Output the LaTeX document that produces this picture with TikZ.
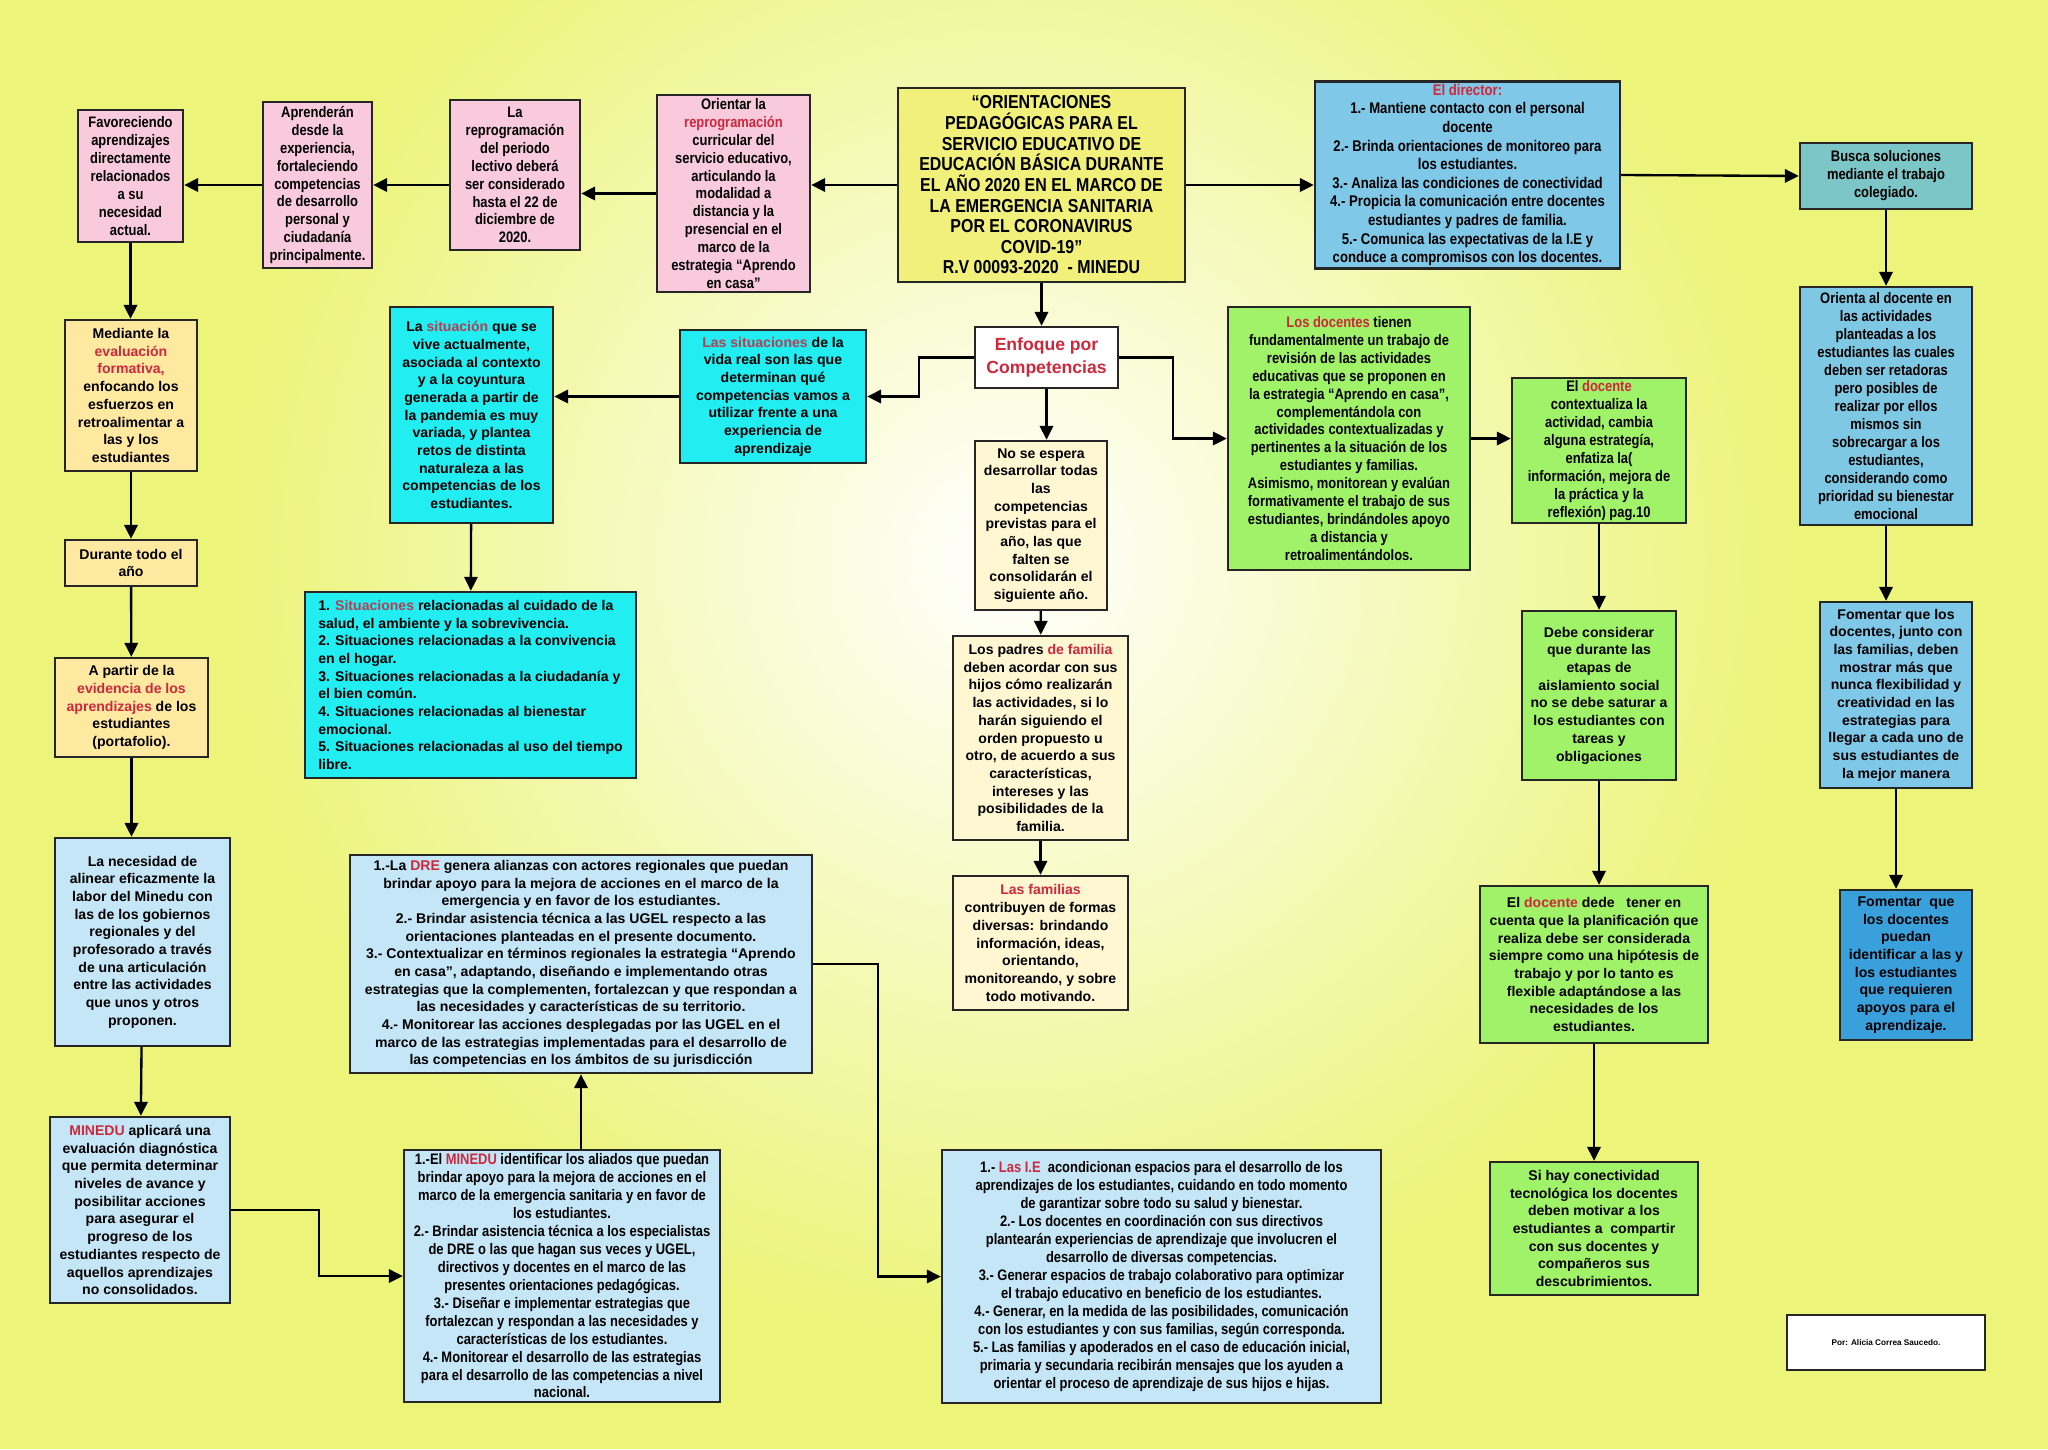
\documentclass[tikz,border=0pt]{standalone}
\usepackage{fontspec}
\setmainfont{Liberation Sans}
\newfontfamily\anchafont{Liberation Sans Bold}
\newfontfamily\estrechafont{Liberation Sans Bold}[FakeStretch=0.85]
\usetikzlibrary{arrows.meta}

\definecolor{fondo}{RGB}{236,244,122}
\definecolor{rojo}{RGB}{206,40,60}
\definecolor{rojosuave}{RGB}{178,64,84}
\definecolor{rosa}{RGB}{249,201,220}
\definecolor{amarillo}{RGB}{240,240,122}
\definecolor{celeste}{RGB}{128,200,232}
\definecolor{turquesa}{RGB}{124,198,200}
\definecolor{azulclaro}{RGB}{196,230,246}
\definecolor{azul}{RGB}{58,160,220}
\definecolor{cian}{RGB}{34,238,242}
\definecolor{verde}{RGB}{160,242,104}
\definecolor{crema}{RGB}{255,246,210}
\definecolor{naranja}{RGB}{255,232,160}

\newcommand\rojo[1]{\textcolor{rojo}{#1}}
\newcommand\rojos[1]{\textcolor{rojosuave}{#1}}

\tikzset{
  caja/.style={draw=black!85, line width=2pt, align=center, inner sep=2pt},
  ancha/.style={caja, font=\anchafont\fontsize{12}{15.1}\selectfont},
  estrecha/.style={caja, font=\estrechafont\fontsize{13}{15.3}\selectfont},
  flecha/.style={line width=2pt, -{Triangle[length=0.42cm,width=0.4cm]}},
}

\begin{document}
\begin{tikzpicture}[x=0.03cm,y=-0.03cm]

  \useasboundingbox (0,0) rectangle (2048,1449);
  \fill[fondo] (0,0) rectangle (2048,1449);
  \begin{scope}
    \clip (0,0) rectangle (2048,1449);
    \shade[inner color=white,outer color=fondo] (1010,560) circle (780);
  \end{scope}

  % fila superior
  \node[estrecha, fill=amarillo, minimum width=8.61cm, minimum height=5.82cm,
        font=\estrechafont\fontsize{16}{17.6}\selectfont] (titulo) at (1041.5,185)
    {“ORIENTACIONES\\PEDAGÓGICAS PARA EL\\SERVICIO EDUCATIVO DE\\EDUCACIÓN BÁSICA DURANTE\\EL AÑO 2020 EN EL MARCO DE\\LA EMERGENCIA SANITARIA\\POR EL CORONAVIRUS\\COVID-19”\\R.V 00093-2020 \ - MINEDU};
  \node[estrecha, fill=rosa, minimum width=4.59cm, minimum height=5.91cm] (orientar) at (733.5,193.5)
    {Orientar la\\\rojo{reprogramación}\\curricular del\\servicio educativo,\\articulando la\\modalidad a\\distancia y la\\presencial en el\\marco de la\\estrategia “Aprendo\\en casa”};
  \node[estrecha, fill=rosa, minimum width=3.9cm, minimum height=4.5cm] (reprog) at (515,175)
    {La\\reprogramación\\del periodo\\lectivo deberá\\ser considerado\\hasta el 22 de\\diciembre de\\2020.};
  \node[estrecha, fill=rosa, minimum width=3.27cm, minimum height=4.98cm] (aprenderan) at (317.5,185)
    {Aprenderán\\desde la\\experiencia,\\fortaleciendo\\competencias\\de desarrollo\\personal y\\ciudadanía\\principalmente.};
  \node[estrecha, fill=rosa, minimum width=3.15cm, minimum height=3.96cm] (favoreciendo) at (130.5,176)
    {Favoreciendo\\aprendizajes\\directamente\\relacionados\\a su\\necesidad\\actual.};
  \node[estrecha, fill=celeste, minimum width=9.15cm, minimum height=5.58cm,
        font=\estrechafont\fontsize{13.2}{15.9}\selectfont] (director) at (1467.5,175)
    {\rojo{El director:}\\1.- Mantiene contacto con el personal\\docente\\2.- Brinda orientaciones de monitoreo para\\los estudiantes.\\3.- Analiza las condiciones de conectividad\\4.- Propicia la comunicación entre docentes\\estudiantes y padres de familia.\\5.- Comunica las expectativas de la I.E y\\conduce a compromisos con los docentes.};

  % columna derecha
  \node[estrecha, fill=turquesa, minimum width=5.16cm, minimum height=1.98cm] (busca) at (1886,176)
    {Busca soluciones\\mediante el trabajo\\colegiado.};
  \node[estrecha, fill=celeste!85!turquesa, minimum width=5.16cm, minimum height=7.14cm] (orienta) at (1886,406)
    {Orienta al docente en\\las actividades\\planteadas a los\\estudiantes las cuales\\deben ser retadoras\\pero posibles de\\realizar por ellos\\mismos sin\\sobrecargar a los\\estudiantes,\\considerando como\\prioridad su bienestar\\emocional};
  \node[ancha, fill=celeste, minimum width=4.56cm, minimum height=5.58cm] (fomentar) at (1896,695)
    {Fomentar que los\\docentes, junto con\\las familias, deben\\mostrar más que\\nunca flexibilidad y\\creatividad en las\\estrategias para\\llegar a cada uno de\\sus estudiantes de\\la mejor manera};
  \node[ancha, fill=azul, minimum width=3.96cm, minimum height=4.5cm] (identificar) at (1906,965)
    {Fomentar \ que\\los docentes\\puedan\\identificar a las y\\los estudiantes\\que requieren\\apoyos para el\\aprendizaje.};

  % centro
  \node[caja, fill=white, minimum width=4.29cm, minimum height=1.83cm, text=rojo,
        font=\anchafont\fontsize{15}{19}\selectfont] (enfoque) at (1046.5,357.5)
    {Enfoque por\\Competencias};
  \node[ancha, fill=cian, minimum width=5.58cm, minimum height=3.99cm] (situaciones) at (773,396.5)
    {\rojos{Las situaciones} de la\\vida real son las que\\determinan qué\\competencias vamos a\\utilizar frente a una\\experiencia de\\aprendizaje};
  \node[ancha, fill=cian, minimum width=4.89cm, minimum height=6.48cm] (situacion) at (471.5,415)
    {La \rojos{situación} que se\\vive actualmente,\\asociada al contexto\\y a la coyuntura\\generada a partir de\\la pandemia es muy\\variada, y plantea\\retos de distinta\\naturaleza a las\\competencias de los\\estudiantes.};
  \node[ancha, fill=cian, minimum width=9.93cm, minimum height=5.58cm, align=left] (lista) at (470.5,685)
    {1. \rojos{Situaciones} relacionadas al cuidado de la\\salud, el ambiente y la sobrevivencia.\\2. Situaciones relacionadas a la convivencia\\en el hogar.\\3. Situaciones relacionadas a la ciudadanía y\\el bien común.\\4. Situaciones relacionadas al bienestar\\emocional.\\5. Situaciones relacionadas al uso del tiempo\\libre.};
  \node[ancha, fill=crema, minimum width=3.96cm, minimum height=5.07cm] (noespera) at (1041,525.5)
    {No se espera\\desarrollar todas\\las\\competencias\\previstas para el\\año, las que\\falten se\\consolidarán el\\siguiente año.};
  \node[ancha, fill=crema, minimum width=5.25cm, minimum height=6.12cm] (padres) at (1040.5,738)
    {Los padres \rojo{de familia}\\deben acordar con sus\\hijos cómo realizarán\\las actividades, si lo\\harán siguiendo el\\orden propuesto u\\otro, de acuerdo a sus\\características,\\intereses y las\\posibilidades de la\\familia.};
  \node[ancha, fill=crema, minimum width=5.25cm, minimum height=4.02cm] (familias) at (1040.5,943)
    {\rojo{Las familias}\\contribuyen de formas\\diversas: brindando\\información, ideas,\\orientando,\\monitoreando, y sobre\\todo motivando.};

  % docentes
  \node[estrecha, fill=verde, minimum width=7.26cm, minimum height=7.89cm] (losdocentes) at (1349,438.5)
    {\rojo{Los docentes} tienen\\fundamentalmente un trabajo de\\revisión de las actividades\\educativas que se proponen en\\la estrategia “Aprendo en casa”,\\complementándola con\\actividades contextualizadas y\\pertinentes a la situación de los\\estudiantes y familias.\\Asimismo, monitorean y evalúan\\formativamente el trabajo de sus\\estudiantes, brindándoles apoyo\\a distancia y\\retroalimentándolos.};
  \node[estrecha, fill=verde, minimum width=5.22cm, minimum height=4.35cm] (eldocente) at (1599,450.5)
    {El \rojo{docente}\\contextualiza la\\actividad, cambia\\alguna estrategía,\\enfatiza la(\\información, mejora de\\la práctica y la\\reflexión) pag.10};
  \node[ancha, fill=verde, minimum width=4.62cm, minimum height=5.07cm] (debe) at (1599,695.5)
    {Debe considerar\\que durante las\\etapas de\\aislamiento social\\no se debe saturar a\\los estudiantes con\\tareas y\\obligaciones};
  \node[ancha, fill=verde, minimum width=6.84cm, minimum height=4.71cm] (dede) at (1594,964.5)
    {El \rojo{docente} dede \ \ tener en\\cuenta que la planificación que\\realiza debe ser considerada\\siempre como una hipótesis de\\trabajo y por lo tanto es\\flexible adaptándose a las\\necesidades de los\\estudiantes.};
  \node[ancha, fill=verde, minimum width=6.24cm, minimum height=3.99cm] (sihay) at (1594,1228.5)
    {Si hay conectividad\\tecnológica los docentes\\deben motivar a los\\estudiantes a \ compartir\\con sus docentes y\\compañeros sus\\descubrimientos.};

  % columna izquierda
  \node[ancha, fill=naranja, minimum width=3.96cm, minimum height=4.53cm] (mediante) at (131,395.5)
    {Mediante la\\\rojo{evaluación}\\\rojo{formativa,}\\enfocando los\\esfuerzos en\\retroalimentar a\\las y los\\estudiantes};
  \node[ancha, fill=naranja, minimum width=3.96cm, minimum height=1.38cm] (durante) at (131,563)
    {Durante todo el\\año};
  \node[ancha, fill=naranja, minimum width=4.59cm, minimum height=2.97cm] (apartir) at (131.5,707.5)
    {A partir de la\\\rojo{evidencia de los}\\\rojo{aprendizajes} de los\\estudiantes\\(portafolio).};
  \node[ancha, fill=azulclaro, minimum width=5.25cm, minimum height=6.24cm] (necesidad) at (142.5,942)
    {La necesidad de\\alinear eficazmente la\\labor del Minedu con\\las de los gobiernos\\regionales y del\\profesorado a través\\de una articulación\\entre las actividades\\que unos y otros\\proponen.};
  \node[ancha, fill=azulclaro, minimum width=5.4cm, minimum height=5.58cm] (aplicara) at (140,1210)
    {\rojo{MINEDU} aplicará una\\evaluación diagnóstica\\que permita determinar\\niveles de avance y\\posibilitar acciones\\para asegurar el\\progreso de los\\estudiantes respecto de\\aquellos aprendizajes\\no consolidados.};

  % fila inferior
  \node[ancha, fill=azulclaro, minimum width=13.86cm, minimum height=6.54cm] (dre) at (581,964)
    {1.-La \rojo{DRE} genera alianzas con actores regionales que puedan\\brindar apoyo para la mejora de acciones en el marco de la\\emergencia y en favor de los estudiantes.\\2.- Brindar asistencia técnica a las UGEL respecto a las\\orientaciones planteadas en el presente documento.\\3.- Contextualizar en términos regionales la estrategia “Aprendo\\en casa”, adaptando, diseñando e implementando otras\\estrategias que la complementen, fortalezcan y que respondan a\\las necesidades y características de su territorio.\\4.- Monitorear las acciones desplegadas por las UGEL en el\\marco de las estrategias implementadas para el desarrollo de\\las competencias en los ámbitos de su jurisdicción};
  \node[estrecha, fill=azulclaro, minimum width=9.48cm, minimum height=7.56cm] (minedu) at (562,1276)
    {1.-El \rojo{MINEDU} identificar los aliados que puedan\\brindar apoyo para la mejora de acciones en el\\marco de la emergencia sanitaria y en favor de\\los estudiantes.\\2.- Brindar asistencia técnica a los especialistas\\de DRE o las que hagan sus veces y UGEL,\\directivos y docentes en el marco de las\\presentes orientaciones pedagógicas.\\3.- Diseñar e implementar estrategias que\\fortalezcan y respondan a las necesidades y\\características de los estudiantes.\\4.- Monitorear el desarrollo de las estrategias\\para el desarrollo de las competencias a nivel\\nacional.};
  \node[estrecha, fill=azulclaro, minimum width=13.17cm, minimum height=7.59cm] (ie) at (1161.5,1276.5)
    {1.- \rojo{Las I.E} \ acondicionan espacios para el desarrollo de los\\aprendizajes de los estudiantes, cuidando en todo momento\\de garantizar sobre todo su salud y bienestar.\\2.- Los docentes en coordinación con sus directivos\\plantearán experiencias de aprendizaje que involucren el\\desarrollo de diversas competencias.\\3.- Generar espacios de trabajo colaborativo para optimizar\\el trabajo educativo en beneficio de los estudiantes.\\4.- Generar, en la medida de las posibilidades, comunicación\\con los estudiantes y con sus familias, según corresponda.\\5.- Las familias y apoderados en el caso de educación inicial,\\primaria y secundaria recibirán mensajes que los ayuden a\\orientar el proceso de aprendizaje de sus hijos e hijas.};
  \node[caja, fill=white, minimum width=5.94cm, minimum height=1.65cm,
        font=\anchafont\fontsize{7}{8}\selectfont] (autora) at (1886,1342.5)
    {Por: Alicia Correa Saucedo.};

  % conectores
  \draw[flecha] (titulo.west) -- (titulo.west -| orientar.east);
  \draw[flecha] (orientar.west) -- (orientar.west -| reprog.east);
  \draw[flecha] (reprog.west |- aprenderan.east) -- (aprenderan.east);
  \draw[flecha] (aprenderan.west) -- (aprenderan.west -| favoreciendo.east);
  \draw[flecha] (favoreciendo.south) -- (favoreciendo.south |- mediante.north);
  \draw[flecha] (mediante) -- (durante);
  \draw[flecha] (durante) -- (apartir);
  \draw[flecha] (apartir.south) -- (apartir.south |- necesidad.north);
  \draw[flecha] (necesidad) -- (aplicara);
  \draw[flecha] (aplicara.east) -- ++(88,0) |- (minedu.west);
  \draw[flecha] (minedu.north -| dre.south) -- (dre.south);
  \draw[flecha] (dre.east) -- ++(65,0) |- (ie.west);

  \draw[flecha] (titulo.east) -- (titulo.east -| director.west);
  \draw[flecha] (director.east) -- (busca.west);
  \draw[flecha] (busca) -- (orienta);
  \draw[flecha] (orienta.south) -- (orienta.south |- fomentar.north);
  \draw[flecha] (fomentar.south) -- (fomentar.south |- identificar.north);

  \draw[flecha] (titulo.south) -- (titulo.south |- enfoque.north);
  \draw[flecha] (enfoque.west) -- ++(-55,0) |- (situaciones.east);
  \draw[flecha] (situaciones.west) -- (situaciones.west -| situacion.east);
  \draw[flecha] (situacion) -- (lista);
  \draw[flecha] (enfoque.south) -- (enfoque.south |- noespera.north);
  \draw[flecha] (noespera) -- (padres);
  \draw[flecha] (padres) -- (familias);
  \draw[flecha] (enfoque.east) -- ++(54,0) |- (losdocentes.west);
  \draw[flecha] (losdocentes.east) -- (losdocentes.east -| eldocente.west);
  \draw[flecha] (eldocente) -- (debe);
  \draw[flecha] (debe.south) -- (debe.south |- dede.north);
  \draw[flecha] (dede) -- (sihay);

\end{tikzpicture}
\end{document}
